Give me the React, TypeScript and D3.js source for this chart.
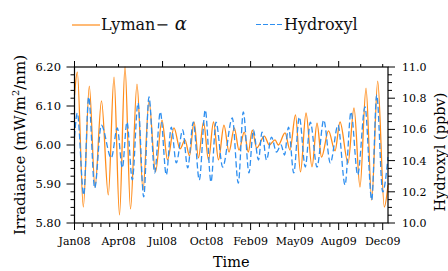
import React from "react";
import * as d3 from "d3";

// Days since 1 Jan 2008
const lymanDays = [0, 6.4, 20.0, 33.6, 46.6, 61.3, 76.8, 89.7, 102.2, 114.7, 127.2, 141.9, 155.6, 169.2, 184.0, 198.7, 211.2, 226.0, 239.6, 251.0, 261.2, 271.4, 281.6, 293.0, 304.3, 315.7, 327.0, 339.5, 350.9, 362.9, 373.6, 385.6, 394.7, 403.8, 413.8, 431.1, 442.4, 455.4, 462.9, 478.1, 489.4, 501.9, 513.3, 525.8, 539.4, 550.8, 561.0, 576.9, 591.7, 603.0, 621.2, 634.8, 648.4, 662.1, 675.0, 688.6, 703.6, 712];
const lymanValues = [6.128, 6.187, 5.841, 6.151, 5.892, 6.113, 5.872, 6.174, 5.821, 6.2, 5.836, 6.156, 5.885, 6.113, 5.931, 6.064, 5.962, 6.044, 5.99, 6.013, 5.972, 6.059, 5.967, 6.059, 5.962, 6.059, 5.962, 6.051, 5.982, 6.044, 5.987, 6.033, 5.982, 6.038, 5.992, 6.023, 6.0, 6.013, 6.0, 6.031, 5.987, 6.077, 5.931, 6.082, 5.944, 6.056, 5.969, 6.036, 5.985, 6.059, 5.954, 6.095, 5.892, 6.146, 5.859, 6.164, 5.841, 5.897];

const hydroxylDays = [0, 6.4, 20.9, 32.2, 45.9, 60.9, 83.6, 97.2, 108.6, 119.2, 131.3, 144.2, 157.2, 169.2, 182.1, 194.9, 208.5, 219.8, 231.2, 245.7, 257.1, 269.8, 283.4, 297.0, 310.0, 321.4, 336.6, 358.4, 372.0, 383.4, 396.3, 406.1, 417.9, 425.9, 436.1, 447.4, 458.8, 469.0, 477.0, 486.1, 497.9, 510.6, 524.2, 535.6, 550.8, 566.0, 581.0, 598.5, 614.4, 628.0, 643.2, 659.8, 675.0, 686.4, 700.0, 712];
const hydroxylValues = [10.551, 10.705, 10.179, 10.808, 10.224, 10.628, 10.417, 10.609, 10.353, 10.647, 10.276, 10.769, 10.167, 10.808, 10.321, 10.712, 10.308, 10.615, 10.385, 10.596, 10.353, 10.647, 10.276, 10.724, 10.263, 10.647, 10.359, 10.673, 10.256, 10.712, 10.321, 10.596, 10.404, 10.583, 10.404, 10.551, 10.455, 10.5, 10.436, 10.615, 10.321, 10.679, 10.359, 10.647, 10.359, 10.66, 10.385, 10.628, 10.244, 10.712, 10.308, 10.744, 10.147, 10.821, 10.199, 10.423];

const xTickDays = [0, 100, 200, 300, 400, 500, 600, 700];
const xTickLabels = ["Jan08", "Apr08", "Jul08", "Oct08", "Feb09", "May09", "Aug09", "Dec09"];
const leftTicks = [5.8, 5.9, 6.0, 6.1, 6.2];
const rightTicks = [10.0, 10.2, 10.4, 10.6, 10.8, 11.0];

const FONT = "DejaVu Serif, Liberation Serif, serif";
const ORANGE = "#ff8c1a";
const BLUE = "#2e8ff0";

export default function App() {
  const L = 74.5, R = 388, T = 67, B = 223;
  const x = d3.scaleLinear().domain([0, 712]).range([L, R]);
  const yL = d3.scaleLinear().domain([5.8, 6.2]).range([B, T]);
  const yR = d3.scaleLinear().domain([10, 11]).range([B, T]);

  const lymanLine = d3.line<number>()
    .x((_, i) => x(lymanDays[i]))
    .y((v) => yL(v))
    .curve(d3.curveMonotoneX);
  const ohLine = d3.line<number>()
    .x((_, i) => x(hydroxylDays[i]))
    .y((v) => yR(v))
    .curve(d3.curveMonotoneX);

  const bottomMinor = d3.range(0, 713, 20);
  const topMinor = d3.range(0, 713, 50);
  const topMajor = d3.range(0, 713, 200);
  const leftMinor = d3.range(0, 21).map((i) => 5.8 + i * 0.02);
  const rightMinor = d3.range(0, 21).map((i) => 10 + i * 0.05);
  const ts = { fontFamily: FONT };

  return (
    <svg width={448} height={271} style={{ position: "absolute", left: 0, top: 0 }}>
      <rect width={448} height={271} fill="#fff" />
      {/* legend */}
      <line x1={72} x2={100} y1={25} y2={25} stroke={ORANGE} strokeWidth={1.2} />
      <text x={101} y={30} style={ts} fontSize={16} fill="#111">
        Lyman−
        <tspan dx={6} fontStyle="italic" fontSize={18}>α</tspan>
      </text>
      <line x1={256} x2={283} y1={24.5} y2={24.5} stroke={BLUE} strokeWidth={1.2} strokeDasharray="5,2" />
      <text x={284} y={30} style={ts} fontSize={16} fill="#111">Hydroxyl</text>

      {/* data */}
      <path d={lymanLine(lymanValues) || ""} fill="none" stroke={ORANGE} strokeWidth={1.3} />
      <path d={ohLine(hydroxylValues) || ""} fill="none" stroke={BLUE} strokeWidth={1.3} strokeDasharray="6,3" />

      {/* frame */}
      <rect x={L} y={T} width={R - L} height={B - T} fill="none" stroke="#000" strokeWidth={1.2} />

      {/* bottom ticks */}
      {bottomMinor.map((d) => (
        <line key={"bm" + d} x1={x(d)} x2={x(d)} y1={B} y2={B + (d % 100 === 0 ? 7 : 4)} stroke="#000" />
      ))}
      {xTickDays.map((d, i) => (
        <text key={"bl" + d} x={x(d)} y={245} textAnchor="middle" style={ts} fontSize={11} fill="#000">{xTickLabels[i]}</text>
      ))}
      {/* top ticks */}
      {topMinor.map((d) => (
        <line key={"tm" + d} x1={x(d)} x2={x(d)} y1={T} y2={T - (topMajor.includes(d) ? 6 : 3)} stroke="#000" />
      ))}
      {/* left ticks */}
      {leftMinor.map((v, i) => (
        <line key={"lm" + i} x1={L} x2={L - (i % 5 === 0 ? 8 : 4)} y1={yL(v)} y2={yL(v)} stroke="#000" />
      ))}
      {leftTicks.map((v) => (
        <text key={"ll" + v} x={61} y={yL(v) + 4} textAnchor="end" style={ts} fontSize={11.5} fill="#000">{v.toFixed(2)}</text>
      ))}
      {/* right ticks */}
      {rightMinor.map((v, i) => (
        <line key={"rm" + i} x1={R} x2={R + (i % 4 === 0 ? 7 : 4)} y1={yR(v)} y2={yR(v)} stroke="#000" />
      ))}
      {rightTicks.map((v) => (
        <text key={"rl" + v} x={402} y={yR(v) + 4} textAnchor="start" style={ts} fontSize={11} fill="#000">{v.toFixed(1)}</text>
      ))}

      {/* axis titles */}
      <text x={(L + R) / 2} y={267} textAnchor="middle" style={ts} fontSize={14.5} fill="#000">Time</text>
      <text transform={`translate(25,${(T + B) / 2}) rotate(-90)`} textAnchor="middle" style={ts} fontSize={15} fill="#000">
        Irradiance (mW/m<tspan dy={-6} fontSize={10}>2</tspan><tspan dy={6}>/nm)</tspan>
      </text>
      <text transform={`translate(445,152) rotate(-90)`} textAnchor="middle" style={ts} fontSize={14.5} fill="#000">Hydroxyl (ppbv)</text>
    </svg>
  );
}
